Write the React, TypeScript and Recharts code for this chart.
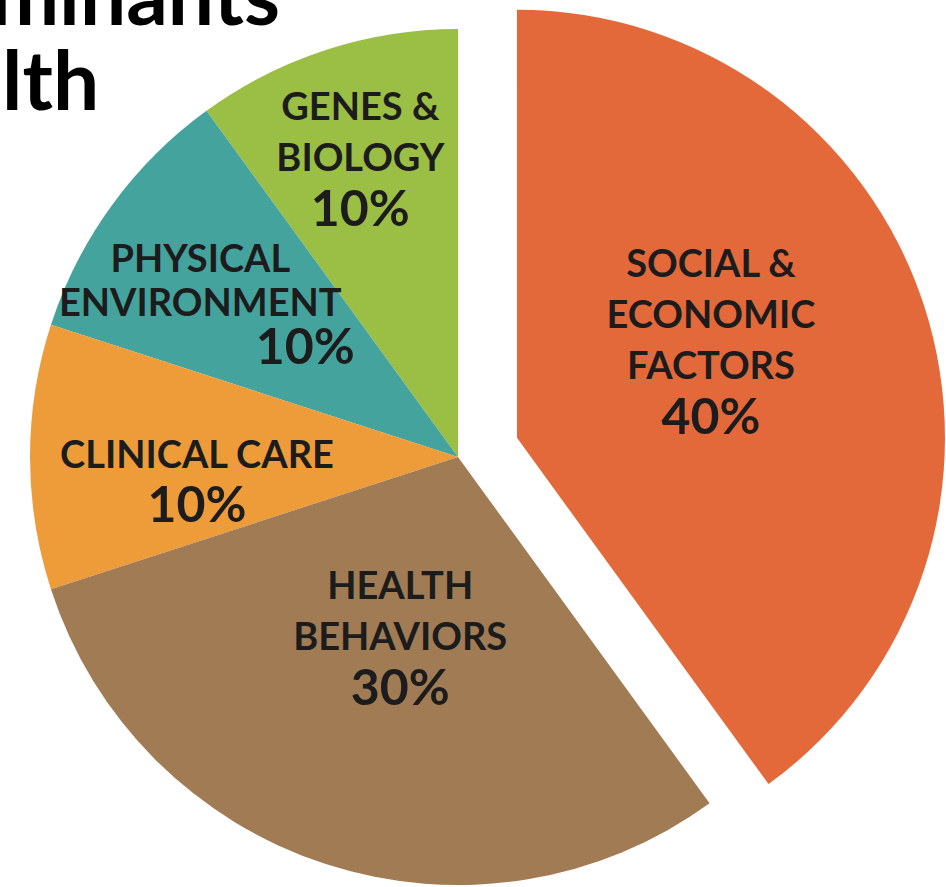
import React from 'react';
import { PieChart, Pie, Cell } from 'recharts';

// values
const categories = ['GENES & BIOLOGY', 'PHYSICAL ENVIRONMENT', 'CLINICAL CARE', 'HEALTH BEHAVIORS', 'SOCIAL & ECONOMIC FACTORS'];
const shares = [10, 10, 10, 30, 40];
const labelLines = [
  ['GENES &', 'BIOLOGY'],
  ['PHYSICAL', 'ENVIRONMENT'],
  ['CLINICAL CARE'],
  ['HEALTH', 'BEHAVIORS'],
  ['SOCIAL &', 'ECONOMIC', 'FACTORS'],
];
const titleParts = ['minants', 'lth'];

const colors = ['#9BBE44', '#45A39E', '#EE9C3A', '#A07B54', '#E3693B'];

// label placement tweaks (radius from centre, extra offsets, line spacing)
const labelLayout = [
  { r: 316, dx: 0, dy: 0, lh: 51, pctDx: 0 },
  { r: 300, dx: -15, dy: 20, lh: 44, pctDx: 105 },
  { r: 261, dx: 0, dy: 21, lh: 50, pctDx: 0 },
  { r: 187, dx: 0, dy: 0, lh: 51, pctDx: 0 },
  { r: 204, dx: 0, dy: -36, lh: 51, pctDx: 0 },
];

const WIDTH = 946;
const HEIGHT = 887;
const CX = 458;
const CY = 457;
const RADIUS = 428;
const EXPLODE = 62;
const EXPLODED = 4;
const RAD = Math.PI / 180;

const data = categories.map((name, i) => ({ name, value: shares[i] }));

// mid angle of the exploded slice, same convention as the Pie (start 90, counter-clockwise)
const total = shares.reduce((a, b) => a + b, 0);
const before = shares.slice(0, EXPLODED).reduce((a, b) => a + b, 0);
const explodeAngle = 90 + (360 * (before + shares[EXPLODED] / 2)) / total;
const ex = CX + EXPLODE * Math.cos(-explodeAngle * RAD);
const ey = CY + EXPLODE * Math.sin(-explodeAngle * RAD);

const renderLabel = (only: (i: number) => boolean) => (props: any) => {
  const { cx, cy, midAngle, index, value } = props;
  if (!only(index)) return null;
  const lay = labelLayout[index];
  const x = cx + lay.r * Math.cos(-midAngle * RAD) + lay.dx;
  const y = cy + lay.r * Math.sin(-midAngle * RAD) + lay.dy;
  const lines = labelLines[index];
  const n = lines.length + 1;
  const top = y - ((n - 1) / 2) * lay.lh;
  return (
    <g key={`lbl-${index}`} fill="#1c1c1c" fontFamily="Lato, 'Open Sans', sans-serif" fontWeight={700}>
      {lines.map((t, k) => (
        <text key={k} x={x} y={top + k * lay.lh} textAnchor="middle" dominantBaseline="central" fontSize={38}>
          {t}
        </text>
      ))}
      <text x={x + lay.pctDx} y={top + lines.length * lay.lh} textAnchor="middle" dominantBaseline="central" fontSize={50}>
        {`${value}%`}
      </text>
    </g>
  );
};

export default function App() {
  return (
    <div style={{ position: 'absolute', left: 0, top: 0, width: WIDTH, height: HEIGHT, background: '#fff', overflow: 'hidden' }}>
      <svg width={WIDTH} height={HEIGHT} style={{ position: 'absolute', left: 0, top: 0 }}>
        <g fontFamily="Lato, 'Open Sans', sans-serif" fontWeight={700} fontSize={82} fill="#000">
          <text x={280} y={25} textAnchor="end">{titleParts[0]}</text>
          <text x={2} y={110}>{titleParts[1]}</text>
        </g>
      </svg>
      <div style={{ position: 'absolute', left: 0, top: 0 }}>
        <PieChart width={WIDTH} height={HEIGHT} margin={{ top: 0, right: 0, bottom: 0, left: 0 }}>
          <Pie
            data={data}
            dataKey="value"
            nameKey="name"
            cx={CX}
            cy={CY}
            outerRadius={RADIUS}
            startAngle={90}
            endAngle={450}
            stroke="none"
            labelLine={false}
            label={renderLabel((i) => i !== EXPLODED)}
            isAnimationActive={false}
          >
            {data.map((d, i) => (
              <Cell key={d.name} fill={i === EXPLODED ? 'none' : colors[i]} />
            ))}
          </Pie>
          <Pie
            data={data}
            dataKey="value"
            nameKey="name"
            cx={ex}
            cy={ey}
            outerRadius={RADIUS}
            startAngle={90}
            endAngle={450}
            stroke="none"
            labelLine={false}
            label={renderLabel((i) => i === EXPLODED)}
            isAnimationActive={false}
          >
            {data.map((d, i) => (
              <Cell key={d.name} fill={i === EXPLODED ? colors[i] : 'none'} />
            ))}
          </Pie>
        </PieChart>
      </div>
    </div>
  );
}
